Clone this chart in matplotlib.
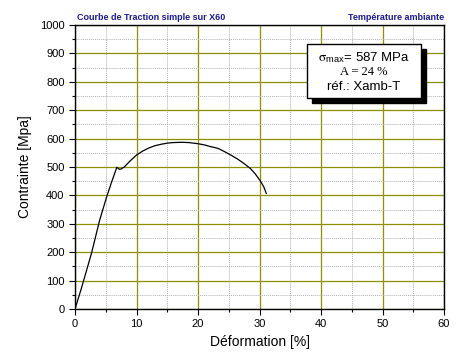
import matplotlib
matplotlib.use('Agg')
import matplotlib.pyplot as plt
from matplotlib.patches import Rectangle
from matplotlib.ticker import MultipleLocator

plt.rcParams['font.family'] = ['Liberation Sans', 'DejaVu Sans']
plt.rcParams['mathtext.fontset'] = 'stix'

# strain [%] and stress [MPa]
strain = [0, 1, 2, 2.7, 4, 5.15, 6.0, 6.8, 7.2, 7.5, 8, 9, 10, 11, 12, 13, 14, 15,
          16, 17.3, 18.5, 20, 21, 22, 22.8, 23.2, 23.6, 24.5, 25.5, 26.5, 27.5,
          28.5, 29.3, 30.1, 30.7, 31.1]
stress = [0, 70, 145, 198, 312, 395, 450, 499, 492, 493, 500, 522, 542, 556, 567,
          575, 580, 584, 586, 587, 586, 582, 578, 572, 568, 566, 562, 552, 540,
          527, 512, 495, 476, 452, 430, 407]

title_left = 'Courbe de Traction simple sur X60'
title_right = 'Température ambiante'
box_lines = [r'$\mathrm{\sigma}_{\mathregular{max}}$= 587 MPa', 'A = 24 %', 'réf.: Xamb-T']

fig = plt.figure(figsize=(4.58, 3.52), dpi=100)
ax = fig.add_axes([75/458, 1-309/352, 369/458, 284/352])

ax.plot(strain, stress, color='black', lw=0.9, zorder=3)

ax.set_xlim(0, 60)
ax.set_ylim(0, 1000)
ax.xaxis.set_major_locator(MultipleLocator(10))
ax.xaxis.set_minor_locator(MultipleLocator(5))
ax.yaxis.set_major_locator(MultipleLocator(100))
ax.yaxis.set_minor_locator(MultipleLocator(50))
ax.grid(which='major', color='#8f8f00', lw=0.9)
ax.grid(which='minor', color='#b0b0b0', lw=0.7, ls=(0, (1, 1)))
ax.set_axisbelow(True)
ax.tick_params(which='major', direction='out', length=4, width=0.8, labelsize=8)
ax.tick_params(which='minor', direction='out', length=2.5, width=0.8)
for s in ax.spines.values():
    s.set_linewidth(1.0)

ax.set_xlabel('Déformation [%]', fontsize=10, labelpad=4)
ax.set_ylabel('Contrainte [Mpa]', fontsize=10, labelpad=6)

ax.text(0.005, 1.012, title_left, transform=ax.transAxes, fontsize=6.5,
        fontweight='bold', color='#1c1c8a', ha='left', va='bottom')
ax.text(1.0, 1.012, title_right, transform=ax.transAxes, fontsize=6.5,
        fontweight='bold', color='#1c1c8a', ha='right', va='bottom')

# info box with drop shadow
bx0, bx1 = 0.629, 0.938
by0, by1 = 0.743, 0.933
dx, dy = 0.0135, 0.0176
ax.add_patch(Rectangle((bx0 + dx, by0 - dy), bx1 - bx0, by1 - by0, transform=ax.transAxes,
                       facecolor='black', edgecolor='black', zorder=4))
ax.add_patch(Rectangle((bx0, by0), bx1 - bx0, by1 - by0, transform=ax.transAxes,
                       facecolor='white', edgecolor='black', lw=1.0, zorder=5))
xc = (bx0 + bx1) / 2
ax.text(xc, 0.885, box_lines[0], transform=ax.transAxes, fontsize=9.5,
        ha='center', va='center', zorder=6)
ax.text(xc, 0.836, box_lines[1], transform=ax.transAxes, fontsize=9,
        family='Liberation Serif', ha='center', va='center', zorder=6)
ax.text(xc, 0.782, box_lines[2], transform=ax.transAxes, fontsize=9.5,
        ha='center', va='center', zorder=6)

fig.savefig('out.png', dpi=100)
